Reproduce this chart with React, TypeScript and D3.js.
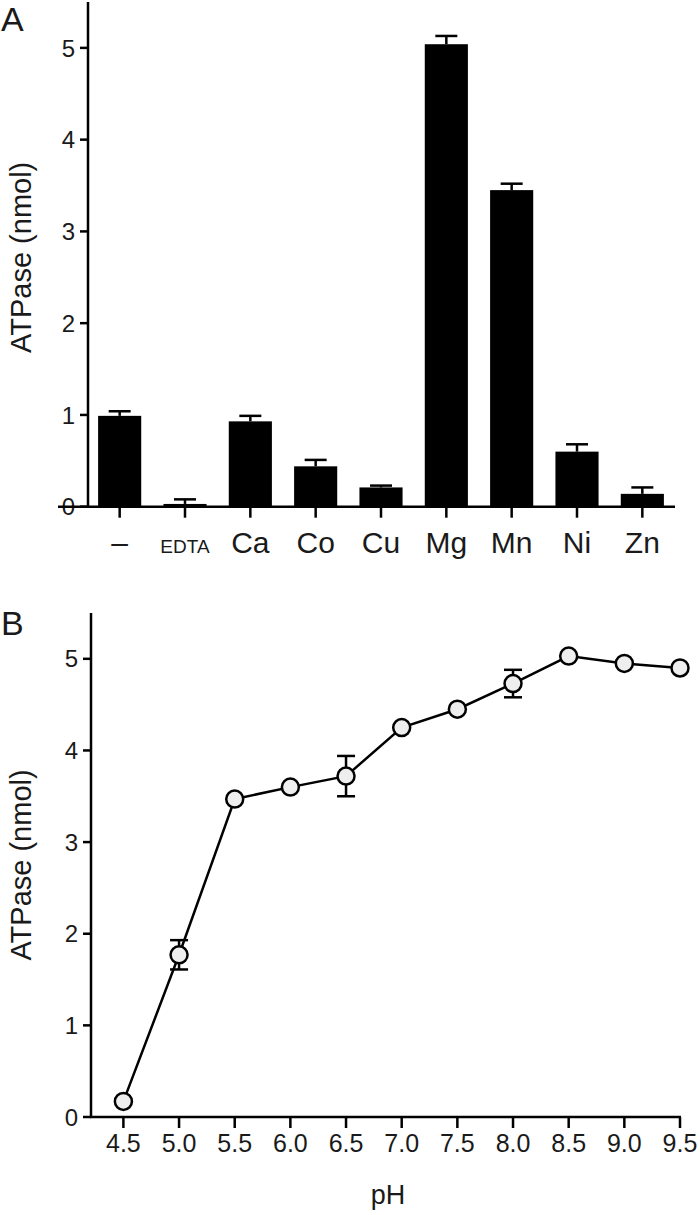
import React from "react";
import * as d3 from "d3";

const metals = ["–", "EDTA", "Ca", "Co", "Cu", "Mg", "Mn", "Ni", "Zn"];
const metalMean = [0.99, 0.03, 0.93, 0.44, 0.21, 5.04, 3.45, 0.6, 0.14];
const metalErr = [0.05, 0.05, 0.06, 0.07, 0.02, 0.09, 0.07, 0.08, 0.07];

const phValues = [4.5, 5.0, 5.5, 6.0, 6.5, 7.0, 7.5, 8.0, 8.5, 9.0, 9.5];
const phMean = [0.17, 1.77, 3.47, 3.6, 3.72, 4.25, 4.45, 4.73, 5.03, 4.95, 4.9];
const phErr = [0, 0.16, 0, 0, 0.22, 0, 0, 0.15, 0, 0, 0];

const yTicks = [0, 1, 2, 3, 4, 5];
const phTicks = [4.5, 5.0, 5.5, 6.0, 6.5, 7.0, 7.5, 8.0, 8.5, 9.0, 9.5];

const FONT = "'Liberation Sans', Arial, Helvetica, sans-serif";
const SW = 2.5;
const TXT = "#1a1a1a";

export default function App() {
  // Panel A
  const xA = d3.scaleBand<string>().domain(metals).range([87, 675]).paddingInner(0.34).paddingOuter(0.17);
  const yA = d3.scaleLinear().domain([0, 5.5]).range([506.7, 2]);
  // Panel B
  const xB = d3.scaleLinear().domain([4.2, 9.5]).range([90, 680]);
  const yB = d3.scaleLinear().domain([0, 5.5]).range([1117, 613]);

  const line = d3
    .line<number>()
    .x((_, i) => xB(phValues[i]))
    .y((d) => yB(d));

  return (
    <svg
      width={700}
      height={1215}
      style={{ position: "absolute", left: 0, top: 0, background: "#fff" }}
      fontFamily={FONT}
    >
      <rect x={0} y={0} width={700} height={1215} fill="#fff" />
      {/* Panel A */}
      <text x={1} y={31} fontSize={34} fill={TXT}>A</text>
      <text
        transform={`translate(31,${(yA(0) + yA(5.5)) / 2 + 3}) rotate(-90)`}
        textAnchor="middle"
        fontSize={29}
        fill={TXT}
      >
        ATPase (nmol)
      </text>
      {/* bars */}
      {metals.map((m, i) => {
        const x = xA(m)!;
        const bw = xA.bandwidth();
        const cx = x + bw / 2;
        const top = yA(metalMean[i]);
        const et = yA(metalMean[i] + metalErr[i]);
        return (
          <g key={m}>
            <line x1={cx} x2={cx} y1={top} y2={et} stroke="#000" strokeWidth={SW} />
            <line x1={cx - 11} x2={cx + 11} y1={et} y2={et} stroke="#000" strokeWidth={SW} />
            <rect x={x} y={top} width={bw} height={yA(0) - top} fill="#000" />
          </g>
        );
      })}
      {/* y axis A */}
      <line x1={88} x2={88} y1={yA(5.5)} y2={yA(0) + SW / 2} stroke="#000" strokeWidth={SW} />
      {yTicks.map((t) => (
        <g key={t}>
          <line x1={80} x2={88} y1={yA(t)} y2={yA(t)} stroke="#000" strokeWidth={SW} />
          <text x={75} y={yA(t)} dy="0.36em" textAnchor="end" fontSize={24} fill={TXT}>
            {t}
          </text>
        </g>
      ))}
      {/* x axis A */}
      <line x1={58} x2={675} y1={yA(0)} y2={yA(0)} stroke="#000" strokeWidth={SW} />
      {metals.map((m) => {
        const cx = xA(m)! + xA.bandwidth() / 2;
        return (
          <g key={m}>
            <line x1={cx} x2={cx} y1={yA(0)} y2={yA(0) + 11} stroke="#000" strokeWidth={SW} />
            <text
              x={cx}
              y={553}
              textAnchor="middle"
              fontSize={m === "EDTA" ? 19 : 30}
              fill={TXT}
            >
              {m}
            </text>
          </g>
        );
      })}

      {/* Panel B */}
      <text x={1} y={635} fontSize={34} fill={TXT}>B</text>
      <text
        transform={`translate(31,${(yB(0) + yB(5.5)) / 2}) rotate(-90)`}
        textAnchor="middle"
        fontSize={29}
        fill={TXT}
      >
        ATPase (nmol)
      </text>
      <line x1={91} x2={91} y1={yB(5.5)} y2={yB(0)} stroke="#000" strokeWidth={SW} />
      {yTicks.map((t) => (
        <g key={t}>
          <line x1={83} x2={91} y1={yB(t)} y2={yB(t)} stroke="#000" strokeWidth={SW} />
          <text x={78} y={yB(t)} dy="0.36em" textAnchor="end" fontSize={24} fill={TXT}>
            {t}
          </text>
        </g>
      ))}
      <line x1={90} x2={681} y1={yB(0)} y2={yB(0)} stroke="#000" strokeWidth={SW} />
      {phTicks.map((t) => (
        <g key={t}>
          <line x1={xB(t)} x2={xB(t)} y1={yB(0)} y2={yB(0) + 11} stroke="#000" strokeWidth={SW} />
          <text x={xB(t)} y={1152} textAnchor="middle" fontSize={25} fill={TXT}>
            {t.toFixed(1)}
          </text>
        </g>
      ))}
      <text x={388} y={1204} textAnchor="middle" fontSize={27} fill={TXT}>pH</text>
      {/* error bars */}
      {phValues.map((p, i) =>
        phErr[i] > 0 ? (
          <g key={"e" + p}>
            <line x1={xB(p)} x2={xB(p)} y1={yB(phMean[i] - phErr[i])} y2={yB(phMean[i] + phErr[i])} stroke="#000" strokeWidth={SW} />
            <line x1={xB(p) - 9} x2={xB(p) + 9} y1={yB(phMean[i] + phErr[i])} y2={yB(phMean[i] + phErr[i])} stroke="#000" strokeWidth={SW} />
            <line x1={xB(p) - 9} x2={xB(p) + 9} y1={yB(phMean[i] - phErr[i])} y2={yB(phMean[i] - phErr[i])} stroke="#000" strokeWidth={SW} />
          </g>
        ) : null
      )}
      <path d={line(phMean) || ""} fill="none" stroke="#000" strokeWidth={SW} />
      {phValues.map((p, i) => (
        <circle key={p} cx={xB(p)} cy={yB(phMean[i])} r={8.5} fill="#eeeeee" stroke="#000" strokeWidth={SW} />
      ))}
    </svg>
  );
}
